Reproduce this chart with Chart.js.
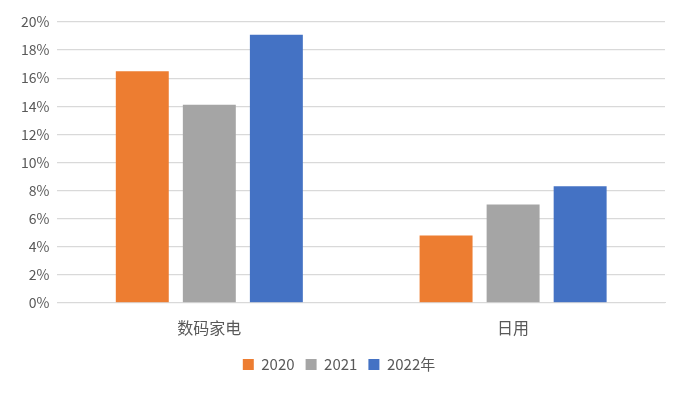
<!DOCTYPE html>
<html><head><meta charset="utf-8">
<script src="https://cdn.jsdelivr.net/npm/chart.js@4"></script>
<style>html,body{margin:0;padding:0;background:#fff}#w{width:687px;height:394px}</style>
</head><body><div id="w"><canvas id="c"></canvas></div>
<script>
const categories = ["数码家电", "日用"];
const seriesNames = ["2020", "2021", "2022年"];
const v2020 = [16.5, 4.8];
const v2021 = [14.1, 7.0];
const v2022 = [19.1, 8.3];
const colors = ["#ED7D31", "#A5A5A5", "#4472C4"];
const font = "'Microsoft YaHei','Noto Sans CJK SC','DejaVu Sans',sans-serif";

new Chart(document.getElementById('c'), {
  type: 'bar',
  data: {
    labels: categories,
    datasets: [v2020, v2021, v2022].map((d, i) => ({
      label: seriesNames[i], data: d, backgroundColor: colors[i],
      categoryPercentage: 0.662, barPercentage: 0.79
    }))
  },
  options: {
    responsive: true, maintainAspectRatio: false, animation: false,
    layout: { padding: { left: 13, right: 22, top: 22, bottom: 12 } },
    plugins: {
      legend: { position: 'bottom', labels: { boxWidth: 11, boxHeight: 11, padding: 11, color: '#595959', font: { family: font, size: 15 } } },
      tooltip: { enabled: false }
    },
    scales: {
      x: { grid: { display: false }, border: { display: true, color: '#d9d9d9' },
           ticks: { color: '#595959', padding: 8, font: { family: font, size: 16 } } },
      y: { min: 0, max: 20, ticks: { stepSize: 2, color: '#595959', padding: 8, font: { family: font, size: 14 }, callback: v => v + '%' },
           grid: { color: '#d9d9d9', lineWidth: 1.3, drawTicks: false }, border: { display: false } }
    }
  }
});
</script></body></html>
